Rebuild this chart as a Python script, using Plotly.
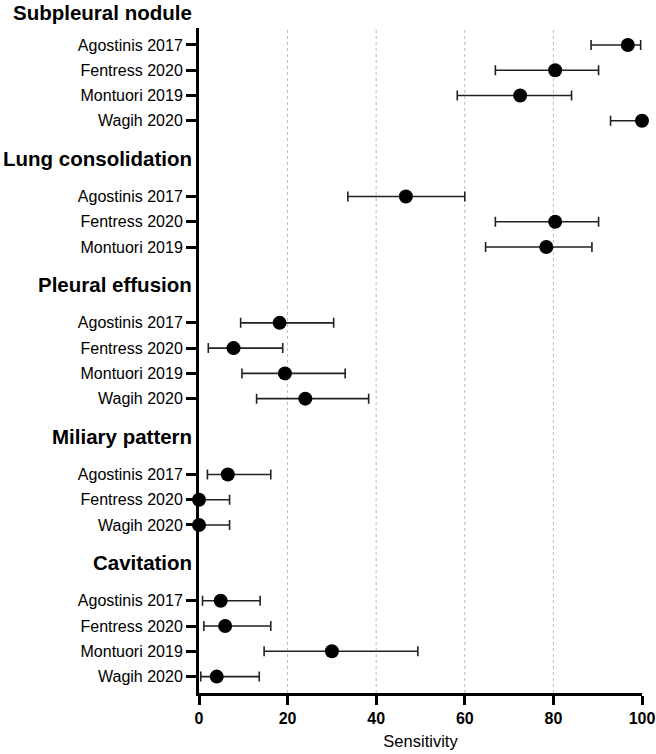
import plotly.graph_objects as go

# ---------------- data ----------------
groups = ["Subpleural nodule", "Lung consolidation", "Pleural effusion",
          "Miliary pattern", "Cavitation"]

subpleural_studies = ["Agostinis 2017", "Fentress 2020", "Montuori 2019", "Wagih 2020"]
subpleural_sens = [96.8, 80.4, 72.5, 100.0]
subpleural_low = [88.5, 66.9, 58.3, 92.9]
subpleural_high = [99.7, 90.2, 84.1, 100.0]

consolidation_studies = ["Agostinis 2017", "Fentress 2020", "Montuori 2019"]
consolidation_sens = [46.7, 80.4, 78.4]
consolidation_low = [33.6, 66.9, 64.7]
consolidation_high = [60.0, 90.2, 88.7]

effusion_studies = ["Agostinis 2017", "Fentress 2020", "Montuori 2019", "Wagih 2020"]
effusion_sens = [18.2, 7.8, 19.4, 24.0]
effusion_low = [9.4, 2.1, 9.7, 13.0]
effusion_high = [30.4, 18.9, 33.0, 38.3]

miliary_studies = ["Agostinis 2017", "Fentress 2020", "Wagih 2020"]
miliary_sens = [6.5, 0.0, 0.0]
miliary_low = [1.9, 0.0, 0.0]
miliary_high = [16.2, 6.9, 6.9]

cavitation_studies = ["Agostinis 2017", "Fentress 2020", "Montuori 2019", "Wagih 2020"]
cavitation_sens = [4.9, 5.9, 30.0, 4.0]
cavitation_low = [0.8, 1.1, 14.7, 0.4]
cavitation_high = [13.8, 16.2, 49.4, 13.6]

x_ticks = [0, 20, 40, 60, 80, 100]
grid_values = [20, 40, 60, 80]
x_title = "Sensitivity"

group_data = [
    (subpleural_studies, subpleural_sens, subpleural_low, subpleural_high),
    (consolidation_studies, consolidation_sens, consolidation_low, consolidation_high),
    (effusion_studies, effusion_sens, effusion_low, effusion_high),
    (miliary_studies, miliary_sens, miliary_low, miliary_high),
    (cavitation_studies, cavitation_sens, cavitation_low, cavitation_high),
]

# ---------------- build rows ----------------
ys, xs, minus, plus, labels = [], [], [], [], []
header_pos = []
pos = 0.0
for gi, (studies, sens, low, high) in enumerate(group_data):
    if gi > 0:
        header_pos.append(pos + 0.5)
        pos += 2.0
    else:
        header_pos.append(None)
    for j, s in enumerate(studies):
        ys.append(pos)
        xs.append(sens[j])
        minus.append(sens[j] - low[j])
        plus.append(high[j] - sens[j])
        labels.append(s)
        pos += 1.0
last = pos - 1.0

FONT = "Liberation Sans, Arial, Helvetica, sans-serif"

fig = go.Figure()
fig.add_trace(go.Scatter(
    x=xs, y=ys, mode="markers",
    marker=dict(size=14, color="black"),
    error_x=dict(type="data", symmetric=False, array=plus, arrayminus=minus,
                 color="#222222", thickness=1.6, width=5),
    cliponaxis=False, showlegend=False, hoverinfo="x+y",
))

shapes = [dict(type="line", xref="x", yref="paper", x0=g, x1=g, y0=0, y1=1,
               line=dict(color="#bbbbbb", width=1, dash="dot"), layer="below")
          for g in grid_values]

annotations = []
for gi, name in enumerate(groups):
    if header_pos[gi] is None:
        annotations.append(dict(text="<b>%s</b>" % name, xref="paper", yref="paper",
                                x=0, y=1, xanchor="right", yanchor="middle",
                                xshift=-5, yshift=16, showarrow=False,
                                font=dict(family=FONT, size=20.5, color="black")))
    else:
        annotations.append(dict(text="<b>%s</b>" % name, xref="paper", yref="y",
                                x=0, y=header_pos[gi], xanchor="right", yanchor="middle",
                                xshift=-5, showarrow=False,
                                font=dict(family=FONT, size=20.5, color="black")))

fig.update_layout(
    width=656, height=754,
    margin=dict(l=199, r=14, t=28, b=61),
    paper_bgcolor="white", plot_bgcolor="white",
    font=dict(family=FONT, color="black"),
    shapes=shapes, annotations=annotations,
    xaxis=dict(range=[0, 100], tickvals=x_ticks, ticktext=[str(v) for v in x_ticks],
               automargin=False,
               showgrid=False, zeroline=False, showline=True, linecolor="black",
               linewidth=3, ticks="outside", ticklen=9, tickwidth=3, tickcolor="black",
               tickfont=dict(family=FONT, size=16, color="black", weight="bold"),
               title=dict(text=x_title, font=dict(family=FONT, size=16.5), standoff=10)),
    yaxis=dict(range=[last + 0.65, -0.67], tickvals=ys, ticktext=labels,
               automargin=False,
               showgrid=False, zeroline=False, showline=True, linecolor="black",
               linewidth=3, ticks="outside", ticklen=10, tickwidth=2.5, tickcolor="black",
               tickfont=dict(family=FONT, size=16, color="black")),
)

fig.write_html("out.html", config={"displayModeBar": False},
               post_script="document.body.style.margin='0';document.body.style.overflow='hidden';")
